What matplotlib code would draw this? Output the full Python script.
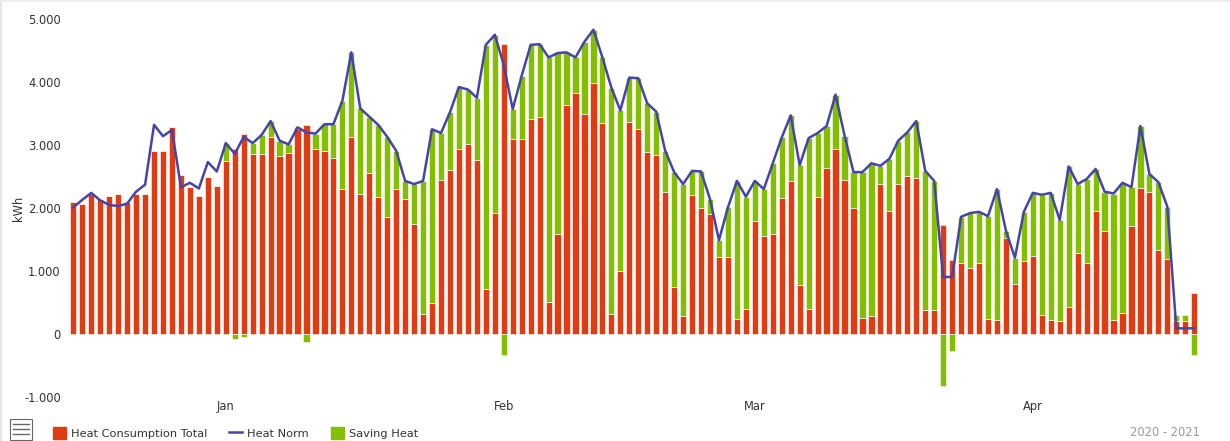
import matplotlib
matplotlib.use("Agg")
import matplotlib.pyplot as plt
import numpy as np
import pandas as pd
from matplotlib.patches import Rectangle
from matplotlib.lines import Line2D

start_date = "2020-12-15"

consumption = [2090, 2060, 2220, 2150, 2190, 2220, 2090, 2220, 2220, 2910,
               2900, 3280, 2520, 2340, 2190, 2490, 2350, 2740, 2940, 3180,
               2860, 2860, 3130, 2830, 2880, 3250, 3310, 2940, 2910, 2790,
               2300, 3130, 2230, 2550, 2180, 1850, 2300, 2140, 1740, 310,
               500, 2440, 2600, 2940, 3020, 2760, 710, 1920, 4610, 3100,
               3100, 3420, 3440, 510, 1590, 3640, 3820, 3500, 3980, 3350,
               320, 1000, 3360, 3260, 2890, 2840, 2250, 750, 290, 2200,
               2000, 1900, 1220, 1230, 240, 390, 1800, 1550, 1580, 2160,
               2430, 780, 400, 2180, 2630, 2940, 2440, 2000, 250, 290,
               2380, 1950, 2380, 2510, 2470, 380, 380, 1730, 1180, 1130,
               1050, 1120, 240, 220, 1530, 800, 1160, 1240, 300, 220,
               210, 430, 1290, 1120, 1950, 1640, 220, 340, 1720, 2310,
               2260, 1330, 1190, 200, 200, 650]

heat_norm = [2010, 2130, 2240, 2120, 2050, 2030, 2070, 2260, 2370, 3320,
             3140, 3240, 2330, 2400, 2310, 2730, 2580, 3030, 2860, 3130,
             3030, 3160, 3380, 3070, 3010, 3280, 3200, 3180, 3330, 3330,
             3700, 4470, 3580, 3450, 3320, 3130, 2910, 2430, 2380, 2430,
             3250, 3190, 3520, 3920, 3880, 3750, 4590, 4750, 4270, 3570,
             4100, 4590, 4600, 4390, 4460, 4470, 4390, 4640, 4830, 4390,
             3910, 3550, 4070, 4060, 3660, 3530, 2910, 2570, 2380, 2590,
             2580, 2140, 1490, 2010, 2430, 2180, 2430, 2300, 2710, 3120,
             3470, 2680, 3110, 3190, 3300, 3800, 3150, 2570, 2570, 2710,
             2670, 2780, 3070, 3200, 3380, 2590, 2430, 905, 905, 1860,
             1920, 1940, 1870, 2300, 1640, 1210, 1940, 2240, 2210, 2240,
             1810, 2660, 2380, 2460, 2620, 2260, 2230, 2400, 2330, 3300,
             2540, 2410, 2020, 90, 90, 90]

saving = [0, 0, 0, 0, 0, 0, 0, 0, 0, 0,
          0, 0, 0, 0, 0, 0, 0, 290, -80, -50,
          170, 300, 250, 240, 130, 30, -120, 240, 420, 540,
          1400, 1340, 1350, 900, 1140, 1280, 610, 290, 640, 2120,
          2750, 750, 920, 980, 860, 990, 3880, 2830, -340, 470,
          1000, 1170, 1160, 3880, 2870, 830, 570, 1140, 850, 1040,
          3590, 2550, 710, 800, 770, 690, 660, 1820, 2090, 390,
          580, 240, 270, 780, 2190, 1790, 630, 750, 1130, 960,
          1040, 1900, 2710, 1010, 670, 860, 710, 570, 2320, 2420,
          290, 830, 690, 690, 910, 2210, 2050, -830, -270, 730,
          870, 820, 1630, 2080, 110, 410, 780, 1000, 1910, 2020,
          1600, 2230, 1090, 1340, 670, 620, 2010, 2060, 610, 990,
          280, 1080, 830, 95, 95, -340]

month_ticks = ["2021-01-01", "2021-02-01", "2021-03-01", "2021-04-01"]
month_labels = ["Jan", "Feb", "Mar", "Apr"]
y_ticks = [-1000, 0, 1000, 2000, 3000, 4000, 5000]
y_tick_labels = ["-1.000", "0", "1.000", "2.000", "3.000", "4.000", "5.000"]

RED = "#E03C14"
GREEN = "#84BE00"
BLUE = "#4444AA"
TXT = "#333333"

dates = pd.date_range(start_date, periods=len(consumption), freq="D")
cons = np.array(consumption, dtype=float)
norm = np.array(heat_norm, dtype=float)
sav = np.array(saving, dtype=float)
green_bottom = np.where(sav >= 0, cons, 0.0)

W, H = 1230, 441
fig = plt.figure(figsize=(W / 100, H / 100), dpi=100)
fig.patch.set_facecolor("white")
ax = fig.add_axes([65 / W, 1 - 397 / H, (1205 - 65) / W, (397 - 19) / H])
ax.set_facecolor("white")

ax.bar(dates, cons, width=0.69, color=RED, edgecolor="white", linewidth=0.4, zorder=2)
ax.bar(dates, sav, bottom=green_bottom, width=0.69, color=GREEN, edgecolor="white",
       linewidth=0.4, zorder=2)
ax.plot(dates, norm, color=BLUE, linewidth=1.8, zorder=3)

ax.set_ylim(-1000, 5000)
ax.set_xlim(dates[0] - pd.Timedelta(days=0.93), dates[-1] + pd.Timedelta(days=1.2))
ax.set_yticks(y_ticks)
ax.set_yticklabels(y_tick_labels)
ax.set_xticks(pd.to_datetime(month_ticks))
ax.set_xticklabels(month_labels)
ax.tick_params(axis="both", length=0, labelsize=8.3, colors=TXT)
ax.tick_params(axis="y", pad=3)
ax.tick_params(axis="x", pad=2.5)
for s in ax.spines.values():
    s.set_visible(False)
ax.set_ylabel("kWh", fontsize=8.3, color=TXT)
ax.yaxis.set_label_coords((25 - 65) / 1140, 0.5)

# legend
handles = [Rectangle((0, 0), 1, 1, color=RED),
           Line2D([0], [0], color=BLUE, lw=1.8),
           Rectangle((0, 0), 1, 1, color=GREEN)]
labels = ["Heat Consumption Total", "Heat Norm", "Saving Heat"]
leg = fig.legend(handles, labels, loc="center left", ncol=3, frameon=False,
                 bbox_to_anchor=(53 / W, 1 - 433 / H), fontsize=8.2,
                 handlelength=1.15, handleheight=1.15, handletextpad=0.45,
                 columnspacing=1.9, borderaxespad=0, borderpad=0)
for t in leg.get_texts():
    t.set_color(TXT)

# menu icon
fig.patches.append(Rectangle((10 / W, 1 - 440 / H), 22 / W, 21 / H, transform=fig.transFigure,
                             facecolor="white", edgecolor="#666666", linewidth=0.8))
for yy in (424, 429, 434):
    fig.lines.append(Line2D([13 / W, 29 / W], [1 - yy / H, 1 - yy / H],
                            transform=fig.transFigure, color="#666666", linewidth=1.0))

fig.text(1200 / W, 1 - 433 / H, "2020 - 2021", ha="right", va="center",
         fontsize=8.3, color="#999999")

# thin frame at left/top
fig.patches.append(Rectangle((0, 0), 2 / W, 1, transform=fig.transFigure,
                             facecolor="#E6E6E6", edgecolor="none"))
fig.patches.append(Rectangle((0, 1 - 2 / H), 1, 2 / H, transform=fig.transFigure,
                             facecolor="#EEEEEE", edgecolor="none"))

fig.savefig("out.png", dpi=100, facecolor="white")
